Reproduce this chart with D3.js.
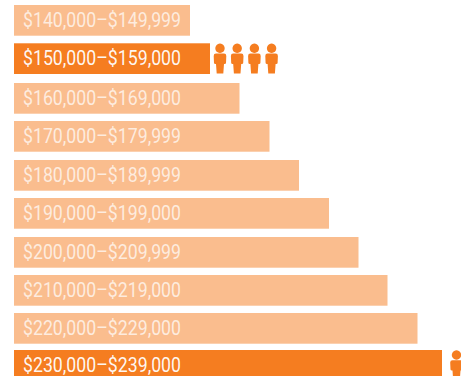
<!DOCTYPE html>
<html>
<head>
<meta charset="utf-8">
<script src="https://cdn.jsdelivr.net/npm/d3@7/dist/d3.min.js"></script>
<style>
  html, body { margin: 0; padding: 0; background: #fff; overflow: hidden; }
  svg { display: block; }
  .label { font-family: Roboto, sans-serif; font-size: 20px; font-weight: 400; fill: #fff; }
</style>
</head>
<body>
<svg id="chart" width="461" height="376"></svg>
<script>
// Salary bands, top to bottom
const bands = [
  "$140,000–$149,999", "$150,000–$159,000", "$160,000–$169,000",
  "$170,000–$179,999", "$180,000–$189,999", "$190,000–$199,000",
  "$200,000–$209,999", "$210,000–$219,000", "$220,000–$229,000",
  "$230,000–$239,000"
];
// Bar lengths per band, on an index scale
const lengths = [176, 196, 225.5, 255.5, 285, 315, 344.5, 373.5, 403.5, 428];
// Number of people shown beside each band
const people = [0, 4, 0, 0, 0, 0, 0, 0, 0, 1];
// Bands drawn in the strong colour
const highlighted = ["$150,000–$159,000", "$230,000–$239,000"];

const strong = "#f57d20";
const pale = "#fabd8e";
const barHeight = 30.7;

const svg = d3.select("#chart");
const x = d3.scaleLinear().domain([0, 428]).range([14, 442]);
// The rows are hand-spaced, so the vertical scale is ordinal
const y = d3.scaleOrdinal().domain(bands).range([5, 43.3, 83, 121, 160, 198, 237, 275, 313, 350]);

const rows = svg.selectAll("g.row")
  .data(bands.map((b, i) => ({ band: b, length: lengths[i], count: people[i] })))
  .join("g")
  .attr("class", "row")
  .attr("transform", d => `translate(0,${y(d.band)})`);

rows.append("rect")
  .attr("x", x(0))
  .attr("width", d => x(d.length) - x(0))
  .attr("height", barHeight)
  .attr("fill", d => highlighted.includes(d.band) ? strong : pale);

rows.append("text")
  .attr("class", "label")
  .attr("x", 23)
  .attr("y", 22.2)
  .attr("textLength", 158)
  .attr("lengthAdjust", "spacingAndGlyphs")
  .attr("fill-opacity", d => highlighted.includes(d.band) ? 0.95 : 0.72)
  .text(d => d.band);

// Pictogram figure: round head over a shouldered torso and tapered legs
const personPath =
  "M0,0.3a4.7,4.7 0 1,1 -0.01,0z" +
  "M-4,10.2h8q2.3,0 2.3,2.4l-0.3,7q-0.1,1 -1.4,1l-0.6,0l-0.7,9.6h-6.6l-0.7,-9.6l-0.6,0q-1.3,0 -1.4,-1l-0.3,-7q0,-2.4 2.3,-2.4z";

const iconStep = 17.2;
rows.each(function (d) {
  const offset = d.count === 1 ? 14.5 : 10;
  d3.select(this).selectAll("path.person")
    .data(d3.range(d.count))
    .join("path")
    .attr("class", "person")
    .attr("d", personPath)
    .attr("fill", strong)
    .attr("transform", i => `translate(${x(d.length) + offset + i * iconStep},0)`);
});
</script>
</body>
</html>
